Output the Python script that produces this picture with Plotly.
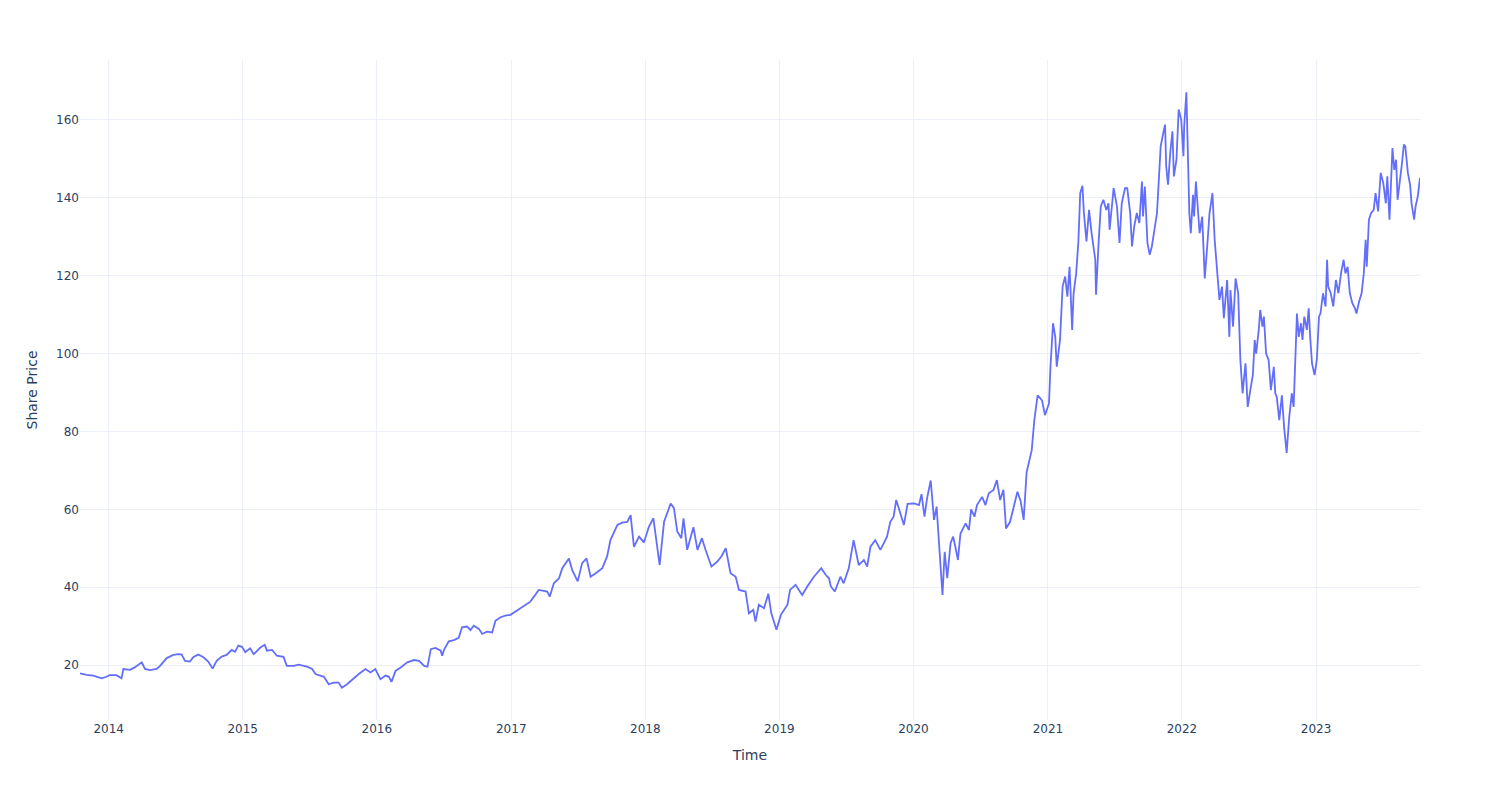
import plotly.graph_objects as go

dates_2013_2016 = [
    "2013-10-15", "2013-11-02", "2013-11-20", "2013-11-29", "2013-12-13", "2013-12-26",
    "2014-01-04", "2014-01-22", "2014-01-31", "2014-02-05", "2014-02-10", "2014-02-28",
    "2014-03-13", "2014-03-27", "2014-04-01", "2014-04-10", "2014-04-23", "2014-05-12",
    "2014-05-21", "2014-06-08", "2014-06-26", "2014-07-10", "2014-07-19", "2014-07-28",
    "2014-08-10", "2014-08-20", "2014-09-02", "2014-09-16", "2014-09-29", "2014-10-11",
    "2014-10-22", "2014-11-05", "2014-11-18", "2014-12-02", "2014-12-11", "2014-12-20",
    "2014-12-30", "2015-01-08", "2015-01-21", "2015-01-31", "2015-02-18", "2015-03-02",
    "2015-03-08", "2015-03-22", "2015-04-04", "2015-04-22", "2015-05-01", "2015-05-20",
    "2015-06-02", "2015-06-25", "2015-07-09", "2015-07-18", "2015-08-10", "2015-08-23",
    "2015-09-06", "2015-09-19", "2015-09-28", "2015-10-12", "2015-10-30", "2015-11-13",
    "2015-12-01", "2015-12-15", "2015-12-28", "2016-01-11", "2016-01-25", "2016-02-03",
    "2016-02-10", "2016-02-21", "2016-03-06", "2016-03-24", "2016-04-11", "2016-04-25",
    "2016-05-09", "2016-05-18", "2016-05-27", "2016-06-09", "2016-06-23", "2016-06-27",
    "2016-07-02", "2016-07-15", "2016-07-29", "2016-08-11", "2016-08-20", "2016-09-03",
    "2016-09-12", "2016-09-21", "2016-10-05", "2016-10-14", "2016-10-27", "2016-11-10",
    "2016-11-19", "2016-12-03", "2016-12-16",
]
price_2013_2016 = [
    17.9, 17.5, 17.3, 17.0, 16.6, 17.0,
    17.4, 17.4, 17.0, 16.6, 19.0, 18.8,
    19.4, 20.3, 20.7, 19.0, 18.7, 19.0,
    19.8, 21.8, 22.6, 22.8, 22.7, 21.1,
    20.9, 22.1, 22.7, 22.0, 20.9, 19.1,
    21.1, 22.2, 22.6, 23.9, 23.4, 25.0,
    24.7, 23.3, 24.3, 22.8, 24.5, 25.2,
    23.7, 23.9, 22.4, 22.1, 19.8, 19.8,
    20.1, 19.6, 19.0, 17.7, 17.0, 15.1,
    15.5, 15.5, 14.2, 15.1, 16.6, 17.7,
    19.0, 18.1, 19.0, 16.4, 17.3, 17.0,
    15.7, 18.5, 19.4, 20.7, 21.3, 21.1,
    19.8, 19.6, 24.1, 24.4, 23.7, 22.4,
    23.9, 26.1, 26.4, 27.0, 29.7, 29.9,
    29.0, 30.1, 29.3, 28.0, 28.6, 28.4,
    31.4, 32.3, 32.7,
]

dates_2017_2019 = [
    "2016-12-30", "2017-01-26", "2017-02-22", "2017-03-17", "2017-04-09", "2017-04-16",
    "2017-04-27", "2017-05-11", "2017-05-20", "2017-06-07", "2017-06-16", "2017-07-01",
    "2017-07-13", "2017-07-25", "2017-08-05", "2017-08-19", "2017-09-06", "2017-09-19",
    "2017-09-28", "2017-10-17", "2017-10-30", "2017-11-13", "2017-11-22", "2017-12-01",
    "2017-12-15", "2017-12-28", "2018-01-11", "2018-01-23", "2018-01-30", "2018-02-09",
    "2018-02-21", "2018-03-02", "2018-03-11", "2018-03-20", "2018-03-29", "2018-04-09",
    "2018-04-15", "2018-04-25", "2018-05-12", "2018-05-23", "2018-06-04", "2018-06-14",
    "2018-06-30", "2018-07-16", "2018-07-27", "2018-08-08", "2018-08-21", "2018-09-04",
    "2018-09-13", "2018-10-01", "2018-10-10", "2018-10-22", "2018-10-28", "2018-11-06",
    "2018-11-20", "2018-12-02", "2018-12-10", "2018-12-24", "2019-01-05", "2019-01-23",
    "2019-01-30", "2019-02-14", "2019-03-04", "2019-03-18", "2019-04-05", "2019-04-25",
    "2019-05-07", "2019-05-16", "2019-05-21", "2019-06-01", "2019-06-16", "2019-06-25",
    "2019-07-09", "2019-07-22", "2019-08-05", "2019-08-19", "2019-08-28", "2019-09-06",
    "2019-09-19", "2019-10-03", "2019-10-21", "2019-10-30", "2019-11-08", "2019-11-15",
]
price_2017_2019 = [
    32.9, 34.6, 36.3, 39.3, 38.9, 37.6,
    41.0, 42.3, 44.9, 47.4, 44.4, 41.5,
    46.2, 47.4, 42.7, 43.6, 44.9, 47.9,
    52.1, 56.0, 56.6, 56.8, 58.5, 50.4,
    53.0, 51.5, 55.6, 57.7, 53.0, 45.7,
    56.8, 59.0, 61.5, 60.3, 54.3, 52.6,
    57.7, 49.6, 55.4, 49.6, 52.6, 49.6,
    45.3, 46.6, 47.9, 50.0, 43.6, 42.7,
    39.3, 38.9, 33.3, 34.2, 31.2, 35.5,
    34.6, 38.3, 33.3, 29.1, 32.9, 35.5,
    39.3, 40.6, 38.0, 40.2, 42.7, 44.9,
    43.2, 42.3, 40.2, 38.9, 42.7, 41.0,
    44.9, 52.1, 45.7, 47.0, 45.3, 50.4,
    52.1, 49.6, 53.0, 56.8, 58.1, 62.4,
]

dates_2020 = [
    "2019-11-28", "2019-12-06", "2019-12-16", "2020-01-03", "2020-01-16", "2020-01-23",
    "2020-01-31", "2020-02-07", "2020-02-17", "2020-02-26", "2020-03-04", "2020-03-10",
    "2020-03-15", "2020-03-20", "2020-03-26", "2020-04-02", "2020-04-11", "2020-04-18",
    "2020-04-24", "2020-05-01", "2020-05-08", "2020-05-22", "2020-05-31", "2020-06-06",
    "2020-06-15", "2020-06-22", "2020-07-06", "2020-07-15", "2020-07-24", "2020-08-06",
    "2020-08-15", "2020-08-24", "2020-09-02", "2020-09-09", "2020-09-20", "2020-10-01",
    "2020-10-10", "2020-10-19", "2020-10-27", "2020-11-04",
]
price_2020 = [
    58.1, 56.0, 61.4, 61.5, 61.1, 63.9,
    58.1, 62.8, 67.4, 57.3, 60.7, 51.3,
    45.3, 38.0, 49.1, 42.3, 51.3, 53.0,
    50.4, 47.0, 53.8, 56.4, 54.7, 60.0,
    58.1, 61.1, 63.2, 61.1, 64.1, 65.0,
    67.5, 62.4, 65.0, 55.1, 56.8, 60.7,
    64.5, 62.0, 57.3, 69.5,
]

dates_2021_2023 = [
    "2020-11-09", "2020-11-18", "2020-11-25", "2020-12-04", "2020-12-16", "2020-12-24",
    "2021-01-04", "2021-01-08", "2021-01-15", "2021-01-21", "2021-01-25", "2021-02-03",
    "2021-02-10", "2021-02-17", "2021-02-23", "2021-03-01", "2021-03-08", "2021-03-12",
    "2021-03-19", "2021-03-25", "2021-03-30", "2021-04-05", "2021-04-09", "2021-04-16",
    "2021-04-23", "2021-04-30", "2021-05-10", "2021-05-12", "2021-05-19", "2021-05-25",
    "2021-06-01", "2021-06-09", "2021-06-15", "2021-06-18", "2021-06-29", "2021-07-08",
    "2021-07-15", "2021-07-21", "2021-07-30", "2021-08-05", "2021-08-13", "2021-08-18",
    "2021-08-24", "2021-08-31", "2021-09-07", "2021-09-14", "2021-09-17", "2021-09-22",
    "2021-09-29", "2021-10-05", "2021-10-11", "2021-10-18", "2021-10-25", "2021-10-29",
    "2021-11-04", "2021-11-10", "2021-11-16", "2021-11-19", "2021-11-24", "2021-11-30",
    "2021-12-06", "2021-12-10", "2021-12-17", "2021-12-23", "2021-12-30", "2022-01-05",
    "2022-01-07", "2022-01-13", "2022-01-18", "2022-01-21", "2022-01-25", "2022-01-31",
    "2022-02-03", "2022-02-08", "2022-02-14", "2022-02-18", "2022-02-25", "2022-03-04",
    "2022-03-11", "2022-03-17", "2022-03-21", "2022-03-25", "2022-03-31", "2022-04-06",
    "2022-04-13", "2022-04-20", "2022-04-25", "2022-05-04", "2022-05-10", "2022-05-13",
    "2022-05-20", "2022-05-27", "2022-06-03", "2022-06-09", "2022-06-15", "2022-06-23",
    "2022-06-29", "2022-07-06", "2022-07-13", "2022-07-18", "2022-07-22", "2022-07-29",
    "2022-08-02", "2022-08-08", "2022-08-12", "2022-08-18", "2022-08-25", "2022-08-31",
    "2022-09-08", "2022-09-12", "2022-09-16", "2022-09-23", "2022-09-30", "2022-10-06",
    "2022-10-13", "2022-10-20", "2022-10-27", "2022-11-01", "2022-11-04", "2022-11-10",
    "2022-11-15", "2022-11-21", "2022-11-25", "2022-11-30", "2022-12-07", "2022-12-12",
    "2022-12-16", "2022-12-21", "2022-12-28", "2023-01-03", "2023-01-09", "2023-01-13",
    "2023-01-20", "2023-01-27", "2023-01-31", "2023-02-03", "2023-02-10", "2023-02-17",
    "2023-02-24", "2023-03-03", "2023-03-10", "2023-03-17", "2023-03-22", "2023-03-28",
    "2023-04-03", "2023-04-10", "2023-04-17", "2023-04-21", "2023-04-28", "2023-05-05",
    "2023-05-11", "2023-05-16", "2023-05-19", "2023-05-25", "2023-05-31", "2023-06-07",
    "2023-06-12", "2023-06-19", "2023-06-26", "2023-07-03", "2023-07-10", "2023-07-14",
    "2023-07-20", "2023-07-25", "2023-07-28", "2023-08-02", "2023-08-07", "2023-08-11",
    "2023-08-17", "2023-08-23", "2023-08-28", "2023-09-01", "2023-09-08", "2023-09-14",
    "2023-09-18", "2023-09-25", "2023-09-29", "2023-10-05", "2023-10-11",
]
price_2021_2023 = [
    71.3, 75.2, 82.9, 89.3, 88.0, 84.2,
    87.2, 96.6, 107.8, 104.3, 96.6, 103.5,
    117.2, 119.8, 114.6, 122.3, 106.1, 115.5,
    120.6, 128.8, 141.2, 143.1, 136.1, 128.8,
    136.9, 130.9, 124.1, 115.1, 128.4, 137.8,
    139.5, 136.9, 138.6, 131.8, 142.5, 137.8,
    128.4, 138.6, 142.5, 142.5, 136.1, 127.5,
    132.6, 136.1, 133.5, 144.2, 135.2, 142.9,
    128.4, 125.4, 127.5, 132.2, 136.1, 142.9,
    153.2, 156.2, 158.8, 148.1, 143.4, 151.5,
    157.1, 145.5, 149.8, 162.7, 160.1, 150.7,
    158.4, 167.1, 149.8, 136.1, 130.9, 140.8,
    135.2, 144.2, 136.1, 130.9, 135.2, 119.3,
    127.9, 136.1, 138.6, 141.2, 129.2, 121.5,
    113.8, 117.2, 109.1, 118.9, 104.3, 116.3,
    106.9, 119.3, 115.5, 98.3, 89.8, 97.5,
    86.3, 90.6, 94.5, 103.5, 100.0, 106.1,
    111.2, 106.9, 109.5, 100.0, 98.3, 90.6,
    96.6, 89.8, 88.9, 82.9, 89.3, 81.2,
    74.5, 83.7, 89.8, 86.3, 94.9, 110.3,
    104.3, 107.8, 103.5, 109.5, 106.1, 111.6,
    104.3, 97.5, 94.5, 98.3, 109.5, 110.3,
    115.5, 112.1, 124.1, 117.2, 115.5, 112.1,
    118.9, 115.5, 120.6, 124.1, 120.6, 122.3,
    115.5, 112.9, 111.6, 110.3, 113.3, 115.5,
    120.6, 129.2, 122.3, 134.4, 136.1, 136.9,
    141.2, 136.5, 146.4, 143.8, 138.6, 145.5,
    134.4, 149.8, 152.8, 147.2, 149.8, 139.5,
    143.8, 148.9, 153.7, 153.2, 146.4, 143.4,
    138.6, 134.4, 137.8, 140.4, 145.1,
]

dates = dates_2013_2016 + dates_2017_2019 + dates_2020 + dates_2021_2023
prices = price_2013_2016 + price_2017_2019 + price_2020 + price_2021_2023

fig = go.Figure()
fig.add_trace(go.Scatter(x=dates, y=prices, mode="lines", line=dict(color="#636efa", width=1.8)))
fig.update_layout(
    template="plotly_white",
    width=1500,
    height=800,
    font=dict(family="DejaVu Sans", size=12, color="#2a3f5f"),
    margin=dict(l=80, r=80, t=60, b=80),
    xaxis_title="Time",
    yaxis_title="Share Price",
    showlegend=False,
)
fig.update_yaxes(range=[5.9, 175.4])
fig.write_html("out.html")
